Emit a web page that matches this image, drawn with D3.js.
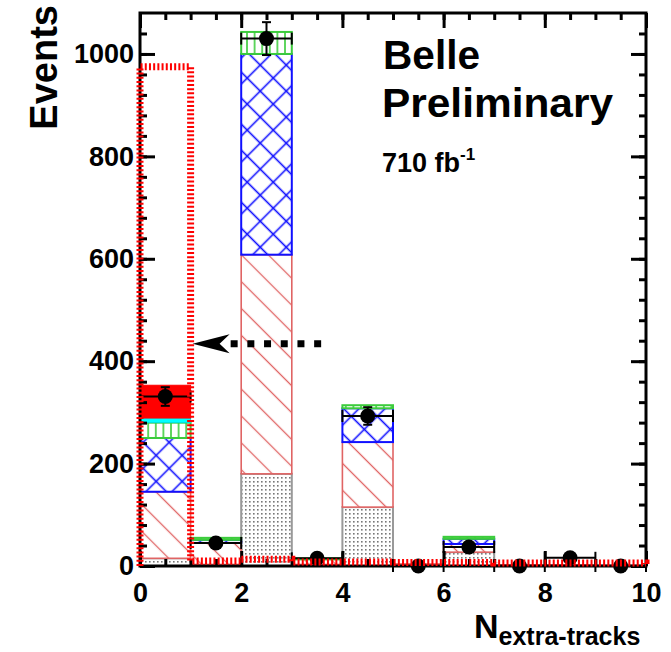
<!DOCTYPE html>
<html>
<head>
<meta charset="utf-8">
<script src="https://cdn.jsdelivr.net/npm/d3@7"></script>
<style>
  body { margin: 0; background: #fff; }
  svg { display: block; }
  text { font-family: "Liberation Sans", Arial, Helvetica, sans-serif; font-weight: bold; }
</style>
</head>
<body>
<svg id="chart" width="671" height="652"></svg>
<script>
// Bin edges of the N_extra-tracks histogram
const binLow = [0, 1, 2, 3, 4, 5, 6, 7, 8, 9];
const binWidth = 1;

// Stacked MC components (events per bin), bottom to top
const bkgDotted  = [15, 3, 180, 3, 115, 2, 27, 1, 1, 1];
const bkgHatched = [130, 42, 428, 10, 127, 2, 16, 1, 1, 0];
const bkgCross   = [105, 6, 392, 0, 66, 0, 10, 0, 0, 0];
const bkgVert    = [30, 4, 43, 2, 6, 0, 4, 0, 0, 0];
const bkgCyan    = [9, 0, 0, 0, 0, 0, 0, 0, 0, 0];
const sigSolid   = [64, 0, 0, 0, 0, 0, 0, 0, 0, 0];

// Scaled signal shape (dotted outline)
const sigScaled = [975, 10, 13, 8, 8, 7, 7, 6, 6, 6];

// Data counts per bin
const dataCounts = [331, 45, 1030, 15, 293, 0, 37, 0, 16, 0];

// Selection arrow: from / to (x units) at a given height (events)
const arrowFrom = 3.58, arrowTo = 1.04, arrowLevel = 434;

// Axis ticks
const xTickLabels = [0, 2, 4, 6, 8, 10];
const yTickLabels = [0, 200, 400, 600, 800, 1000];

const svg = d3.select("#chart");
const plot = { left: 140, right: 646, top: 13, bottom: 566 };
const x = d3.scaleLinear().domain([0, 10]).range([plot.left, plot.right]);
const y = d3.scaleLinear().domain([0, 1080]).range([plot.bottom, plot.top]);

// ---- fill patterns ----
const defs = svg.append("defs");

const pDots = defs.append("pattern").attr("id", "pDots")
  .attr("patternUnits", "userSpaceOnUse").attr("width", 4).attr("height", 4);
pDots.append("rect").attr("width", 4).attr("height", 4).attr("fill", "#fff");
pDots.append("rect").attr("x", 1).attr("y", 1).attr("width", 1.6).attr("height", 1.6).attr("fill", "#777");

const pHatch = defs.append("pattern").attr("id", "pHatch")
  .attr("patternUnits", "userSpaceOnUse").attr("width", 19).attr("height", 19)
  .attr("patternTransform", "rotate(45)");
pHatch.append("rect").attr("width", 19).attr("height", 19).attr("fill", "#fff");
pHatch.append("line").attr("x1", 0).attr("x2", 19).attr("y1", 9.5).attr("y2", 9.5)
  .attr("stroke", "#e06464").attr("stroke-width", 1.3);

const pCross = defs.append("pattern").attr("id", "pCross")
  .attr("patternUnits", "userSpaceOnUse").attr("width", 18.4).attr("height", 18.4)
  .attr("patternTransform", "rotate(45)");
pCross.append("rect").attr("width", 18.4).attr("height", 18.4).attr("fill", "#fff");
pCross.append("line").attr("x1", 0).attr("x2", 18.4).attr("y1", 9.2).attr("y2", 9.2)
  .attr("stroke", "#1010ff").attr("stroke-width", 1.6);
pCross.append("line").attr("y1", 0).attr("y2", 18.4).attr("x1", 9.2).attr("x2", 9.2)
  .attr("stroke", "#1010ff").attr("stroke-width", 1.6);

const pVert = defs.append("pattern").attr("id", "pVert")
  .attr("patternUnits", "userSpaceOnUse").attr("width", 7.6).attr("height", 10);
pVert.append("rect").attr("width", 7.6).attr("height", 10).attr("fill", "#fff");
pVert.append("line").attr("x1", 3.8).attr("x2", 3.8).attr("y1", 0).attr("y2", 10)
  .attr("stroke", "#3ccc3c").attr("stroke-width", 1.6);

// ---- stacked MC ----
const layers = [
  { values: bkgDotted,  fill: "url(#pDots)",  stroke: "#999999", sw: 2 },
  { values: bkgHatched, fill: "url(#pHatch)", stroke: "#e06464", sw: 1.6 },
  { values: bkgCross,   fill: "url(#pCross)", stroke: "#1010ff", sw: 2 },
  { values: bkgVert,    fill: "url(#pVert)",  stroke: "#3ccc3c", sw: 2 },
  { values: bkgCyan,    fill: "#00ffff",      stroke: "#00e0e0", sw: 1 },
  { values: sigSolid,   fill: "#ff0000",      stroke: "#ff0000", sw: 1 }
];

const cum = binLow.map(() => 0);
const gStack = svg.append("g");
layers.forEach(layer => {
  binLow.forEach((lo, i) => {
    const v = layer.values[i];
    if (v <= 0) return;
    const b0 = cum[i], b1 = cum[i] + v;
    gStack.append("rect")
      .attr("x", x(lo)).attr("width", x(lo + binWidth) - x(lo))
      .attr("y", y(b1)).attr("height", y(b0) - y(b1))
      .attr("fill", layer.fill)
      .attr("stroke", layer.stroke).attr("stroke-width", layer.sw);
    cum[i] = b1;
  });
});

// ---- axes (ticks inward on all four sides) ----
const tickW = 3;
function styleAxis(g) {
  g.select(".domain").remove();
  g.selectAll(".tick line").attr("stroke", "#000").attr("stroke-width", tickW);
  g.selectAll("text").attr("font-size", 27).attr("fill", "#000")
    .attr("font-family", "'Liberation Sans', Arial, Helvetica, sans-serif").attr("font-weight", "bold");
}
const xMinor = d3.range(0, 10.001, 0.5);
const yMinor = d3.range(0, 1080, 40);

// bottom
svg.append("g").attr("transform", `translate(0,${plot.bottom})`)
  .call(d3.axisBottom(x).tickValues(xMinor).tickSize(-7).tickFormat("")).call(styleAxis);
svg.append("g").attr("transform", `translate(0,${plot.bottom})`)
  .call(d3.axisBottom(x).tickValues(xTickLabels).tickSize(-15).tickPadding(17).tickFormat(d3.format("d")))
  .call(styleAxis);
// top
svg.append("g").attr("transform", `translate(0,${plot.top})`)
  .call(d3.axisTop(x).tickValues(xMinor).tickSize(-7).tickFormat("")).call(styleAxis);
svg.append("g").attr("transform", `translate(0,${plot.top})`)
  .call(d3.axisTop(x).tickValues(xTickLabels).tickSize(-15).tickFormat("")).call(styleAxis);
// left
svg.append("g").attr("transform", `translate(${plot.left},0)`)
  .call(d3.axisLeft(y).tickValues(yMinor).tickSize(-7).tickFormat("")).call(styleAxis);
svg.append("g").attr("transform", `translate(${plot.left},0)`)
  .call(d3.axisLeft(y).tickValues(yTickLabels).tickSize(-15).tickPadding(6).tickFormat(d3.format("d")))
  .call(styleAxis);
// right
svg.append("g").attr("transform", `translate(${plot.right},0)`)
  .call(d3.axisRight(y).tickValues(yMinor).tickSize(-7).tickFormat("")).call(styleAxis);
svg.append("g").attr("transform", `translate(${plot.right},0)`)
  .call(d3.axisRight(y).tickValues(yTickLabels).tickSize(-15).tickFormat("")).call(styleAxis);

// frame
svg.append("rect")
  .attr("x", plot.left).attr("y", plot.top)
  .attr("width", plot.right - plot.left).attr("height", plot.bottom - plot.top)
  .attr("fill", "none").attr("stroke", "#000").attr("stroke-width", 3);

// ---- data points with error bars ----
const gData = svg.append("g").attr("stroke", "#000").attr("stroke-width", 2);
binLow.forEach((lo, i) => {
  const n = dataCounts[i];
  const err = Math.sqrt(n);
  const cx = x(lo + binWidth / 2), cy = y(n);
  const xl = x(lo), xr = x(lo + binWidth);
  gData.append("line").attr("x1", xl).attr("x2", xr).attr("y1", cy).attr("y2", cy);
  gData.append("line").attr("x1", xl).attr("x2", xl).attr("y1", cy - 6).attr("y2", cy + 6);
  gData.append("line").attr("x1", xr).attr("x2", xr).attr("y1", cy - 6).attr("y2", cy + 6);
  if (err > 0) {
    const yt = y(n + err), yb = y(n - err);
    gData.append("line").attr("x1", cx).attr("x2", cx).attr("y1", yt).attr("y2", yb);
    gData.append("line").attr("x1", cx - 4.5).attr("x2", cx + 4.5).attr("y1", yt).attr("y2", yt);
    gData.append("line").attr("x1", cx - 4.5).attr("x2", cx + 4.5).attr("y1", yb).attr("y2", yb);
  }
  gData.append("circle").attr("cx", cx).attr("cy", cy).attr("r", 7.5)
    .attr("fill", "#000").attr("stroke", "none");
});

// ---- scaled signal (dotted red step outline), drawn over the points ----
const sigPts = [[0, 0]];
binLow.forEach((lo, i) => { sigPts.push([lo, sigScaled[i]]); sigPts.push([lo + binWidth, sigScaled[i]]); });
sigPts.push([10, 0]);
svg.append("path")
  .attr("d", d3.line().x(d => x(d[0])).y(d => y(d[1]))(sigPts))
  .attr("fill", "none").attr("stroke", "#ff0000")
  .attr("stroke-width", 7).attr("stroke-dasharray", "2 2.2");

// ---- selection arrow ----
const ay = y(arrowLevel);
const tipX = x(arrowTo);
const headLen = 37, headHalf = 9.5, notch = 10;
svg.append("line")
  .attr("x1", x(arrowFrom)).attr("x2", tipX + headLen)
  .attr("y1", ay).attr("y2", ay)
  .attr("stroke", "#000").attr("stroke-width", 7).attr("stroke-dasharray", "7 9.7");
svg.append("path")
  .attr("d", `M${tipX},${ay} L${tipX + headLen},${ay - headHalf} L${tipX + headLen - notch},${ay} L${tipX + headLen},${ay + headHalf} Z`)
  .attr("fill", "#000");

// ---- labels ----
svg.append("text").attr("x", 383).attr("y", 69).attr("font-size", 40)
  .attr("textLength", 97).attr("lengthAdjust", "spacingAndGlyphs").text("Belle");
svg.append("text").attr("x", 382).attr("y", 117).attr("font-size", 40)
  .attr("textLength", 231).attr("lengthAdjust", "spacingAndGlyphs").text("Preliminary");
const lumi = svg.append("text").attr("x", 382).attr("y", 172).attr("font-size", 27);
lumi.append("tspan").text("710 fb");
lumi.append("tspan").attr("font-size", 17).attr("dy", -12).text("-1");

svg.append("text")
  .attr("transform", "translate(57,5) rotate(-90)")
  .attr("text-anchor", "end").attr("font-size", 38).text("Events");

const xt = svg.append("text").attr("x", 474).attr("y", 638).attr("font-size", 34);
xt.append("tspan").text("N");
xt.append("tspan").attr("font-size", 25).attr("dy", 7).text("extra-tracks");
</script>
</body>
</html>
